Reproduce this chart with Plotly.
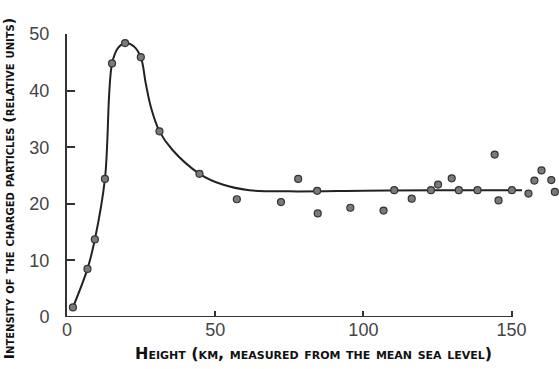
import plotly.graph_objects as go

# measured points (height km, intensity)
pt_x = [2.0, 6.9, 9.4, 12.8, 15.2, 19.6, 24.9, 31.2, 44.7, 57.3, 72.2, 78.0, 84.4, 84.6,
        95.6, 106.8, 110.4, 116.3, 122.8, 125.2, 129.8, 132.2, 138.5, 144.3, 145.6,
        150.1, 155.7, 157.7, 160.1, 163.4, 164.6]
pt_y = [1.7, 8.5, 13.7, 24.4, 44.8, 48.4, 45.9, 32.8, 25.3, 20.8, 20.3, 24.4, 22.3, 18.3,
        19.3, 18.8, 22.4, 20.9, 22.4, 23.4, 24.5, 22.4, 22.4, 28.7, 20.6,
        22.4, 21.8, 24.1, 25.9, 24.2, 22.1]

# fitted curve
cv_x = [2.0, 6.9, 9.4, 12.8, 15.2, 17.3, 19.6, 22.6, 24.9, 26.6, 28.3, 31.2, 35.6, 44.7,
        52.5, 61.5, 75.0, 100.0, 125.0, 153.5]
cv_y = [1.7, 8.5, 13.7, 24.4, 44.8, 47.6, 48.4, 47.8, 45.9, 41.2, 37.1, 32.8, 29.5, 25.3,
        23.4, 22.4, 22.2, 22.3, 22.4, 22.4]

x_ticks = [0, 50, 100, 150]
y_ticks = [0, 10, 20, 30, 40, 50]

x_title = "Height (km, measured from the mean sea level)"
y_title = "Intensity of the charged particles (relative units)"

fig = go.Figure()
fig.add_trace(go.Scatter(x=cv_x, y=cv_y, mode="lines",
                         line=dict(color="#222", width=2, shape="spline", smoothing=1.0),
                         hoverinfo="skip", showlegend=False))
fig.add_trace(go.Scatter(x=pt_x, y=pt_y, mode="markers",
                         marker=dict(size=7, color="#7a7a7a", line=dict(color="#333", width=1.2)),
                         cliponaxis=False, showlegend=False))

axis_color = "#333"
tick_font = dict(family="Liberation Sans, Arial, sans-serif", size=18, color="#444")
x_title_font = dict(family="DejaVu Sans, sans-serif", size=16, color="#111", weight="bold",
                    variant="small-caps")
y_title_font = dict(family="DejaVu Sans, sans-serif", size=14, color="#111", weight="bold",
                    variant="small-caps")

fig.update_xaxes(range=[0, 166], tickvals=x_ticks, ticks="inside", ticklen=6,
                 tickwidth=1.5, tickcolor=axis_color, showline=False, showgrid=False,
                 zeroline=False, tickfont=tick_font)
fig.update_yaxes(range=[0, 50], tickvals=y_ticks, ticks="inside", ticklen=8,
                 tickwidth=1.5, tickcolor=axis_color, showline=True, linewidth=2,
                 linecolor=axis_color, showgrid=False, zeroline=False, tickfont=tick_font,
                 ticklabelstandoff=12)

# x axis line only spanning the tick range
fig.add_shape(type="line", xref="x", yref="y", x0=x_ticks[0], x1=x_ticks[-1], y0=0, y1=0,
              line=dict(color=axis_color, width=2))

fig.add_annotation(text=x_title, xref="paper", yref="paper", x=0.5, y=-0.13,
                   xanchor="center", yanchor="middle", showarrow=False, font=x_title_font)
fig.add_annotation(text=y_title, xref="paper", yref="paper", x=-0.118, y=0.455,
                   xanchor="center", yanchor="middle", showarrow=False, textangle=-90,
                   font=y_title_font)

fig.update_layout(width=559, height=369, margin=dict(l=67, r=0, t=34, b=52),
                  plot_bgcolor="white", paper_bgcolor="white")

fig.write_html("out.html")
